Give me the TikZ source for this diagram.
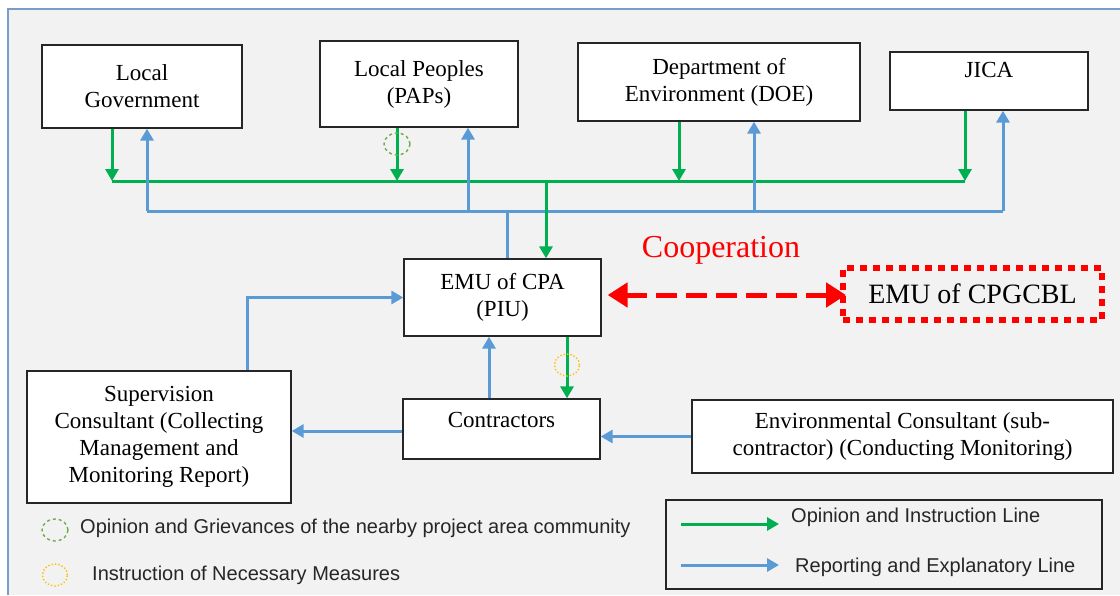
\documentclass[tikz,border=0pt]{standalone}
\usepackage{fontspec}
\setmainfont{Liberation Serif}
\newfontfamily\legendfont{Liberation Sans}
\usetikzlibrary{positioning,arrows.meta,shapes.geometric}
\definecolor{opgreen}{HTML}{00B050}
\definecolor{repblue}{HTML}{5B9BD5}
\definecolor{panelgray}{HTML}{F2F2F2}
\definecolor{framecol}{HTML}{7A9CC6}
\definecolor{grvgreen}{HTML}{70AD47}
\definecolor{insyellow}{HTML}{FFC000}

\begin{document}
\begin{tikzpicture}[
			x=1pt,y=-1pt,
			box/.style={
				draw=black!85,
				line width=1.3pt,
				fill=white,
				inner sep=0pt,
				align=center,
				font=\fontsize{23}{27}\selectfont
			},
			gline/.style={draw=opgreen,line width=3pt},
			bline/.style={draw=repblue,line width=3pt},
			garrow/.style={gline,-{Triangle[length=12pt,width=13pt]}},
			barrow/.style={bline,-{Triangle[length=12pt,width=13pt]}},
			legtext/.style={font=\legendfont\fontsize{20}{22}\selectfont,anchor=west,inner sep=0pt,text=black!85}
			]
			
			\useasboundingbox (0,0) rectangle (1120,595);
			\fill[panelgray] (8,9) rectangle (1120,595);
			\draw[framecol,line width=1.5pt] (1120,9) -- (8,9) -- (8,595);
			
			%--------------------------------------------------
			% Top Row
			%--------------------------------------------------
			
			\node[box,minimum width=200,minimum height=83] (lg) at (142,86.5) {Local\\Government};
			
			\node[box,minimum width=198,minimum height=86] (lp) at (419,84) {Local Peoples\\(PAPs)};
			
			\node[box,minimum width=282,minimum height=78] (doe) at (719,82) {Department of\\Environment (DOE)};
			
			\node[box,minimum width=198,minimum height=58] (jica) at (989,81) {JICA\\[-5pt]\mbox{}};
			
			%--------------------------------------------------
			% Middle Row
			%--------------------------------------------------
			
			\node[box,minimum width=197,minimum height=77] (emu) at (502.5,297.5) {EMU of CPA\\(PIU)};
			
			\node[box,draw=red,fill=none,line width=6pt,dash pattern=on 7pt off 6pt,
				minimum width=259,minimum height=52,font=\fontsize{28}{30}\selectfont] (cpg) at (972.5,294) {EMU of CPGCBL};
			
			\node[text=red,font=\fontsize{32}{34}\selectfont] (coop) at (721,250) {Cooperation};
			
			%--------------------------------------------------
			% Bottom Row
			%--------------------------------------------------
			
			\node[box,minimum width=197,minimum height=60] (ctr) at (501.5,429) {Contractors\\[-8pt]\mbox{}};
			
			\node[box,minimum width=264,minimum height=132] (sc) at (159,437) {Supervision\\Consultant (Collecting\\Management and\\Monitoring Report)};
			
			\node[box,minimum width=421,minimum height=73] (env) at (902.5,436.5) {Environmental Consultant (sub-\\contractor) (Conducting Monitoring)};
			
			%--------------------------------------------------
			% Bus lines
			%--------------------------------------------------
			
			\coordinate (gA) at (112,181);
			\coordinate (gB) at (397,181);
			\coordinate (gC) at (679,181);
			\coordinate (gD) at (965,181);
			\coordinate (gE) at (546,181);
			
			\coordinate (bA) at (147,211);
			\coordinate (bB) at (468,211);
			\coordinate (bC) at (754,211);
			\coordinate (bD) at (1003,211);
			\coordinate (bE) at (507,211);
			
			\draw[gline] (gA) -- (gD);
			\draw[bline] (bA) -- (bD);
			
			%--------------------------------------------------
			% Flow
			%--------------------------------------------------
			
			\draw[garrow] (lg.south -| gA) -- (gA);
			\draw[garrow] (lp.south -| gB) -- (gB);
			\draw[garrow] (doe.south -| gC) -- (gC);
			\draw[garrow] (jica.south -| gD) -- (gD);
			\draw[garrow] (gE) -- (emu.north -| gE);
			
			\draw[barrow] (bA) -- (lg.south -| bA);
			\draw[barrow] (bB) -- (lp.south -| bB);
			\draw[barrow] (bC) -- (doe.south -| bC);
			\draw[barrow] (bD) -- (jica.south -| bD);
			\draw[bline] (emu.north -| bE) -- (bE);
			
			\draw[garrow] ([xshift=64.5pt]emu.south) -- ([xshift=65.5pt]ctr.north);
			\draw[barrow] ([xshift=-12.5pt]ctr.north) -- ([xshift=-13.5pt]emu.south);
			
			\draw[barrow] ([xshift=88pt]sc.north) |- (emu.west);
			\draw[barrow] ([yshift=-2pt]ctr.west) -- ([yshift=-2pt]ctr.west -| sc.east);
			\draw[barrow] (env.west) -- (env.west -| ctr.east);
			
			\draw[red,line width=5pt,dash pattern=on 21pt off 9pt,
				{Triangle[length=20pt,width=24pt]}-{Triangle[length=20pt,width=24pt]}]
			([xshift=6pt,yshift=2.5pt]emu.east) -- ([xshift=6pt,yshift=2.5pt]emu.east -| cpg.west);
			
			%--------------------------------------------------
			% Markers and legend
			%--------------------------------------------------
			
			\node[ellipse,draw=grvgreen,line width=1.4pt,dashed,minimum width=26,minimum height=22,inner sep=0pt] (grvmark) at (397,144) {};
			\node[ellipse,draw=insyellow,line width=1.4pt,dotted,minimum width=25,minimum height=22,inner sep=0pt] (insmark) at (567,365) {};
			
			\node[ellipse,draw=grvgreen,line width=1.4pt,dashed,minimum width=26,minimum height=22,inner sep=0pt] (grvkey) at (55,530) {};
			\node[legtext] (grvtext) at (80,528) {Opinion and Grievances of the nearby project area community};
			
			\node[ellipse,draw=insyellow,line width=1.4pt,dotted,minimum width=25,minimum height=22,inner sep=0pt] (inskey) at (55,575) {};
			\node[legtext] (instext) at (92,575) {Instruction of Necessary Measures};
			
			\node[draw=black!85,line width=1.3pt,minimum width=436,minimum height=89,inner sep=0pt] (legbox) at (884,544.5) {};
			
			\coordinate (kg1) at (681,524);
			\coordinate (kg2) at (779,524);
			\coordinate (kb1) at (681,565);
			\coordinate (kb2) at (779,565);
			
			\draw[garrow] (kg1) -- (kg2);
			\draw[barrow] (kb1) -- (kb2);
			
			\node[legtext] (optext) at (791,517) {Opinion and Instruction Line};
			\node[legtext] (reptext) at (795,567) {Reporting and Explanatory Line};
			
		\end{tikzpicture}
\end{document}
